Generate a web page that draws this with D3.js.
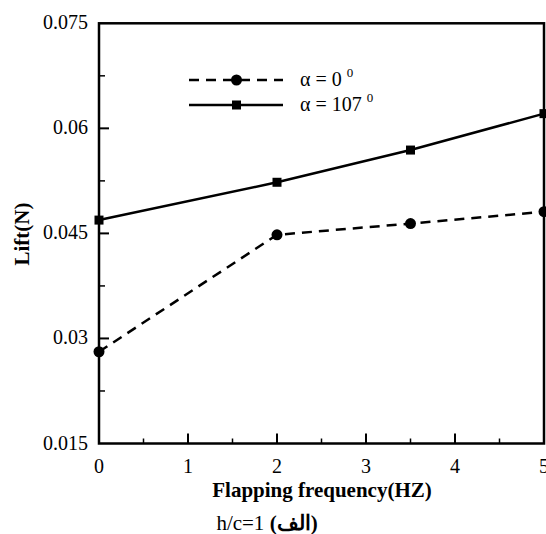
<!DOCTYPE html>
<html><head><meta charset="utf-8">
<script src="https://cdn.jsdelivr.net/npm/d3@7"></script>
<style>body{margin:0;background:#fff}svg{display:block}</style>
</head><body><svg id="c" width="546" height="534"></svg>
<script>
const freq = [0, 2, 3.5, 5];
const lift0 = [0.0281, 0.0448, 0.0464, 0.0481];
const lift107 = [0.0469, 0.0523, 0.0569, 0.0621];
const xTicks = [0, 1, 2, 3, 4, 5];
const yTicks = [0.015, 0.03, 0.045, 0.06, 0.075];
const yTickLabels = ["0.015", "0.03", "0.045", "0.06", "0.075"];
const seriesNames = ["\u03b1 = 0", "\u03b1 = 107"];

const FONT = "Liberation Serif";
const svg = d3.select("#c");
const L = 99, R = 544, T = 23.3, B = 443.5;
const x = d3.scaleLinear().domain([0, 5]).range([L, R]);
const y = d3.scaleLinear().domain([0.015, 0.075]).range([B, T]);

svg.append("rect").attr("x", L).attr("y", T).attr("width", R - L).attr("height", B - T)
  .attr("fill", "none").attr("stroke", "#000").attr("stroke-width", 2.5);

const xMinor = d3.range(0.5, 5, 1);
const gx = svg.append("g");
gx.selectAll("line.maj").data(xTicks.slice(1, -1)).join("line")
  .attr("x1", d => x(d)).attr("x2", d => x(d)).attr("y1", B).attr("y2", B - 10)
  .attr("stroke", "#000").attr("stroke-width", 2);
gx.selectAll("line.min").data(xMinor).join("line")
  .attr("x1", d => x(d)).attr("x2", d => x(d)).attr("y1", B).attr("y2", B - 5)
  .attr("stroke", "#000").attr("stroke-width", 1.5);
gx.selectAll("text").data(xTicks).join("text")
  .attr("font-family", FONT)
  .attr("x", d => x(d)).attr("y", B + 29).attr("text-anchor", "middle")
  .attr("font-size", 20).text(d => d);

const yMinor = d3.range(0, 4).map(i => 0.0225 + i * 0.015);
const gy = svg.append("g");
gy.selectAll("line.maj").data(yTicks.slice(1, -1)).join("line")
  .attr("x1", L).attr("x2", L + 10).attr("y1", d => y(d)).attr("y2", d => y(d))
  .attr("stroke", "#000").attr("stroke-width", 2);
gy.selectAll("line.min").data(yMinor).join("line")
  .attr("x1", L).attr("x2", L + 6).attr("y1", d => y(d)).attr("y2", d => y(d))
  .attr("stroke", "#000").attr("stroke-width", 1.5);
gy.selectAll("text").data(yTicks).join("text")
  .attr("font-family", FONT)
  .attr("x", L - 11).attr("y", d => y(d) + 6).attr("text-anchor", "end")
  .attr("font-size", 20).text((d, i) => yTickLabels[i]);

svg.append("text").attr("font-family", FONT).attr("x", 322).attr("y", 497).attr("text-anchor", "middle")
  .attr("font-size", 21).attr("font-weight", "bold").text("Flapping frequency(HZ)");
svg.append("text").attr("font-family", FONT).attr("transform", "translate(29,234) rotate(-90)").attr("text-anchor", "middle")
  .attr("font-size", 21).attr("font-weight", "bold").text("Lift(N)");
const cap = svg.append("text").attr("font-family", FONT).attr("x", 267).attr("y", 530).attr("text-anchor", "middle").attr("font-size", 21);
cap.append("tspan").text("h/c=1 ");
cap.append("tspan").attr("font-weight", "bold").text("(\u0627\u0644\u0641)");

const line = d3.line().x(d => x(d[0])).y(d => y(d[1]));
const d0 = freq.map((f, i) => [f, lift0[i]]);
const d1 = freq.map((f, i) => [f, lift107[i]]);
const plot = svg.append("g");
plot.append("path").datum(d0).attr("d", line).attr("fill", "none").attr("stroke", "#000")
  .attr("stroke-width", 2.5).attr("stroke-dasharray", "10,7");
plot.append("path").datum(d1).attr("d", line).attr("fill", "none").attr("stroke", "#000")
  .attr("stroke-width", 2.5);
plot.selectAll("circle").data(d0).join("circle")
  .attr("cx", d => x(d[0])).attr("cy", d => y(d[1])).attr("r", 5.5).attr("fill", "#000");
plot.selectAll("rect").data(d1).join("rect")
  .attr("x", d => x(d[0]) - 4.5).attr("y", d => y(d[1]) - 4.5).attr("width", 9).attr("height", 9).attr("fill", "#000");

const lg = svg.append("g");
lg.append("line").attr("x1", 189).attr("x2", 283).attr("y1", 80).attr("y2", 80)
  .attr("stroke", "#000").attr("stroke-width", 2.5).attr("stroke-dasharray", "10,7");
lg.append("circle").attr("cx", 236.5).attr("cy", 80).attr("r", 5.5).attr("fill", "#000");
lg.append("line").attr("x1", 189).attr("x2", 283).attr("y1", 105).attr("y2", 105)
  .attr("stroke", "#000").attr("stroke-width", 2.5);
lg.append("rect").attr("x", 232).attr("y", 100.5).attr("width", 9).attr("height", 9).attr("fill", "#000");
[80, 105].forEach((yy, i) => {
  const t = lg.append("text").attr("font-family", FONT).attr("x", 300).attr("y", yy + 6).attr("font-size", 20);
  t.append("tspan").text(seriesNames[i] + " ");
  t.append("tspan").attr("font-size", 13).attr("dy", -9).text("0");
});
</script></body></html>
